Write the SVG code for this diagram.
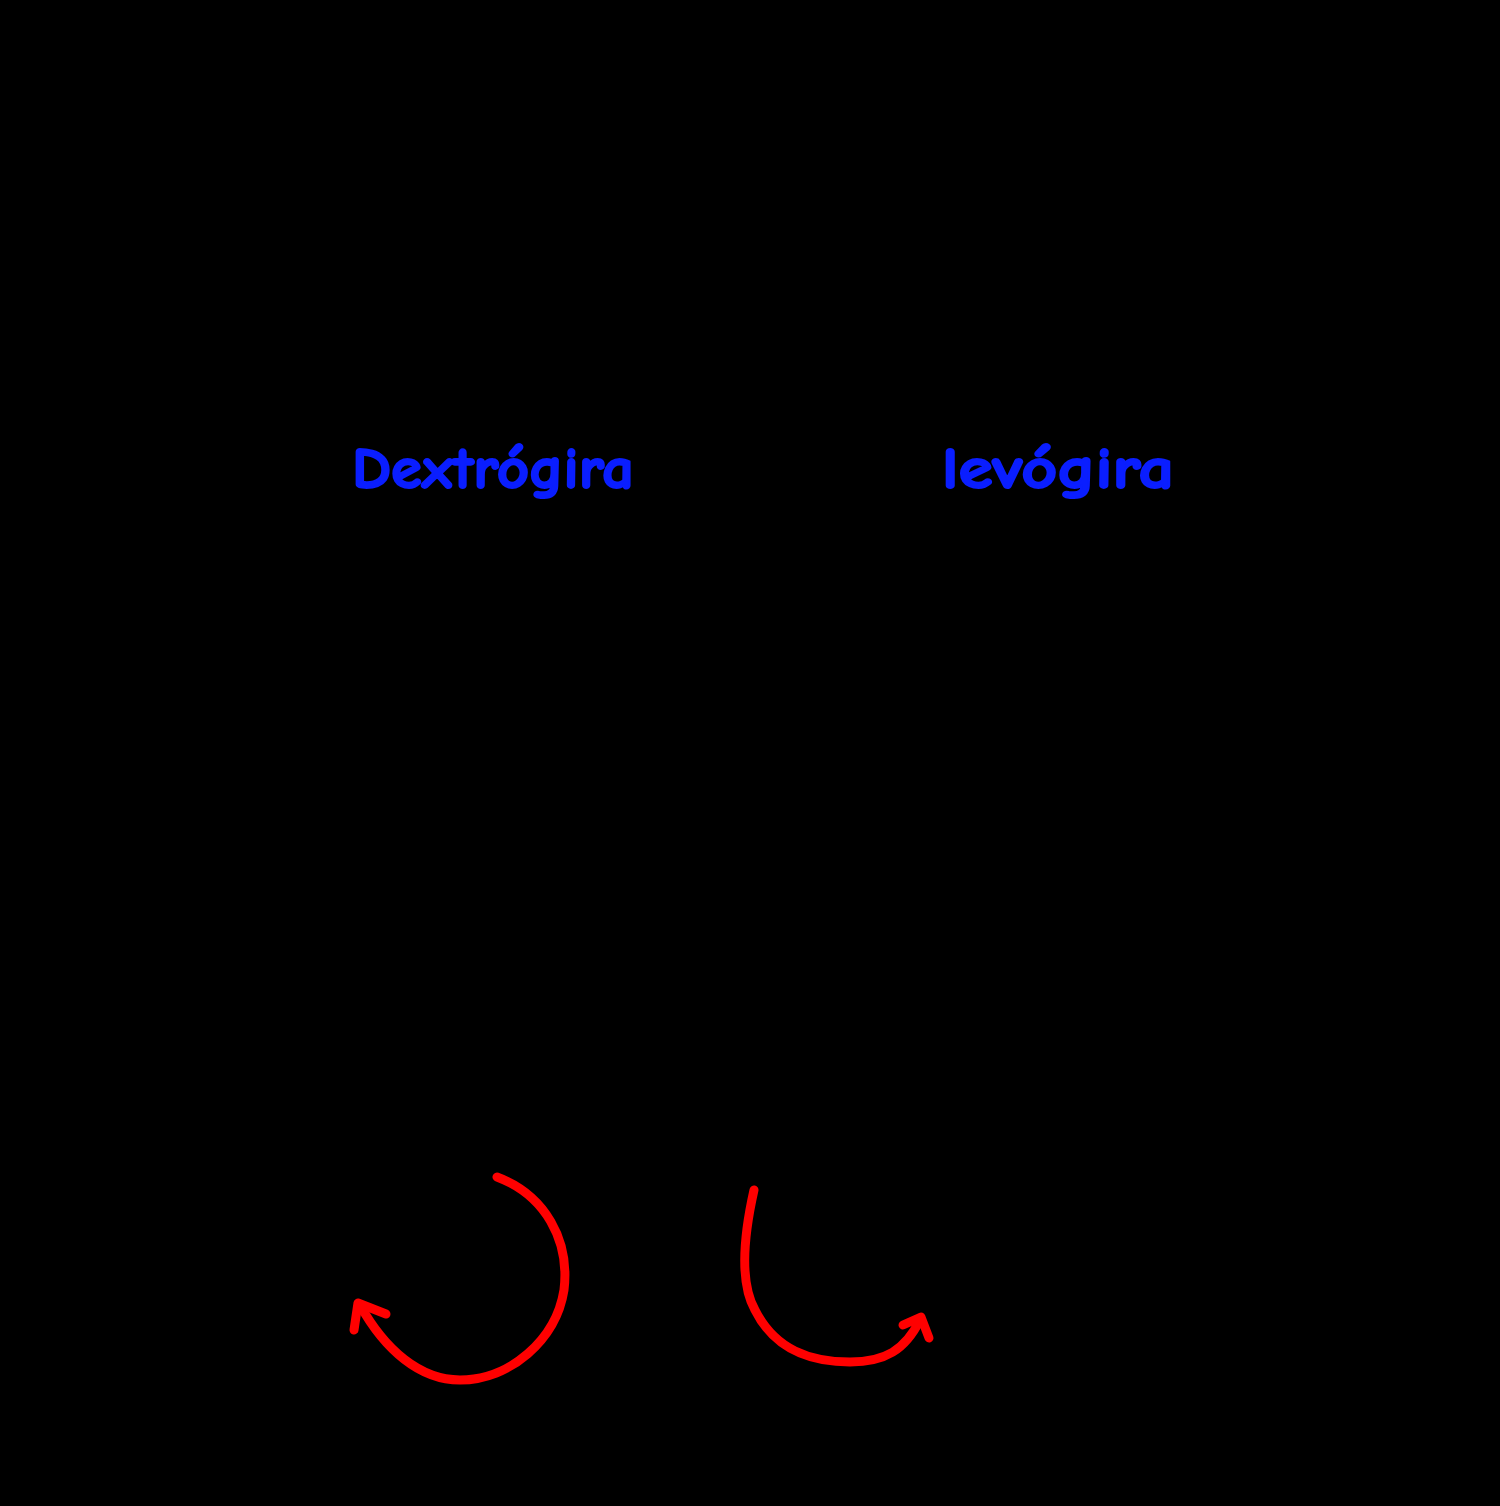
<svg xmlns="http://www.w3.org/2000/svg" width="1500" height="1506" viewBox="0 0 1500 1506">
<style>
.lbl{font-family:"Comic Neue","Liberation Sans","DejaVu Sans",sans-serif;font-weight:bold;fill:#0a1eff;stroke:#0a1eff;stroke-width:2;stroke-linejoin:round}
.arr{fill:none;stroke:#ff0000;stroke-width:9;stroke-linecap:round;stroke-linejoin:round}
</style>
<rect x="0" y="0" width="1500" height="1506" fill="#000"/>
<g id="label-dextrogira"><text class="lbl" x="352" y="488" font-size="58" textLength="282" lengthAdjust="spacingAndGlyphs">Dextrógira</text></g>
<g id="label-levogira"><text class="lbl" x="942" y="488" font-size="58" textLength="232" lengthAdjust="spacingAndGlyphs">levógira</text></g>
<g id="connectors">
<g id="arrow-left">
<path class="arr" d="M497,1177 C545,1195 570,1240 564,1290 C556,1340 510,1380 460,1380 C420,1380 385,1350 360,1305"/>
<path class="arr" d="M354,1330 L358,1303 L386,1314"/>
</g>
<g id="arrow-right">
<path class="arr" d="M754,1190 C745,1230 738,1280 755,1310 C775,1350 810,1362 850,1362 C885,1362 905,1350 920,1320"/>
<path class="arr" d="M903,1325 L921,1317 L929,1338"/>
</g>
</g>
</svg>
